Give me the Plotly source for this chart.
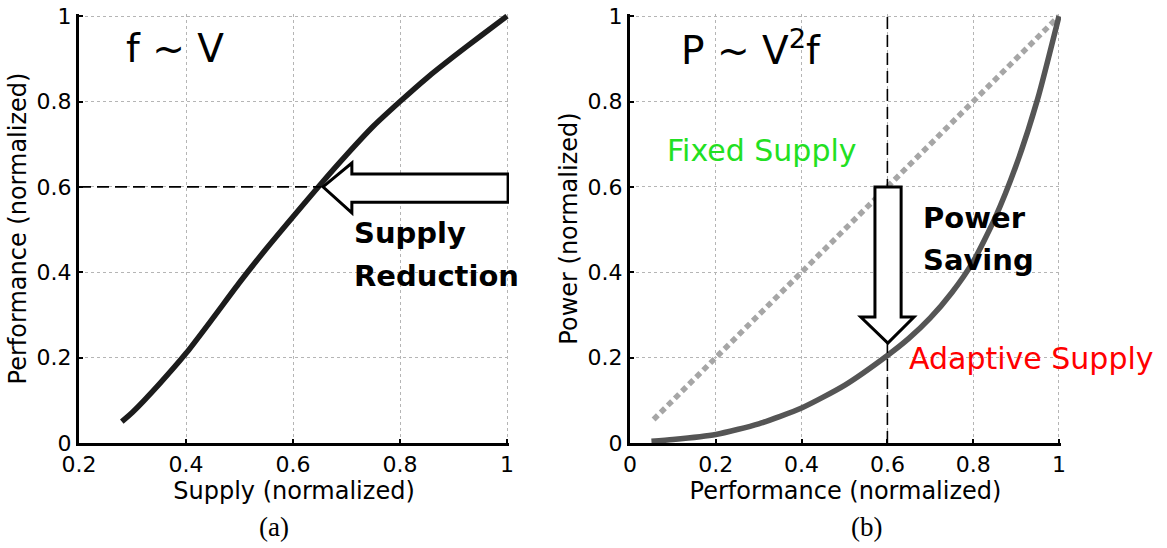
import plotly.graph_objects as go

# Panel (a): normalized performance (frequency) vs supply voltage
supply_v = [0.28, 0.30, 0.35, 0.40, 0.45, 0.50, 0.55, 0.60, 0.65, 0.70, 0.75, 0.80, 0.85, 0.90, 0.95, 1.00]
perf_f = [0.05, 0.072, 0.138, 0.21, 0.292, 0.376, 0.455, 0.53, 0.604, 0.675, 0.742, 0.80, 0.855, 0.905, 0.953, 1.00]

# Panel (b): normalized power vs performance
perf_b = [0.05, 0.10, 0.20, 0.30, 0.40, 0.50, 0.60, 0.65, 0.70, 0.75, 0.80, 0.85, 0.90, 0.95, 1.00]
power_adaptive = [0.004, 0.008, 0.02, 0.045, 0.082, 0.135, 0.205, 0.245, 0.293, 0.352, 0.425, 0.525, 0.65, 0.805, 1.00]
perf_fixed = [0.055, 1.00]
power_fixed = [0.055, 1.00]

tick_a_x = [0.2, 0.4, 0.6, 0.8, 1.0]
tick_a_x_text = ["0.2", "0.4", "0.6", "0.8", "1"]
tick_01 = [0, 0.2, 0.4, 0.6, 0.8, 1.0]
tick_01_text = ["0", "0.2", "0.4", "0.6", "0.8", "1"]

target_perf = 0.6

W, H = 1167, 548
SANS = "DejaVu Sans"

fig = go.Figure()

fig.add_trace(go.Scatter(
    x=supply_v, y=perf_f, mode="lines",
    line=dict(color="#1c1c1c", width=5.5, shape="spline", smoothing=0.6),
    xaxis="x", yaxis="y", showlegend=False, hoverinfo="skip"))

fig.add_trace(go.Scatter(
    x=perf_fixed, y=power_fixed, mode="lines",
    line=dict(color="#a6a6a6", width=5.5, dash="6px,4px"),
    xaxis="x2", yaxis="y2", showlegend=False, hoverinfo="skip"))

fig.add_trace(go.Scatter(
    x=perf_b, y=power_adaptive, mode="lines",
    line=dict(color="#555555", width=5.5, shape="spline", smoothing=0.6),
    xaxis="x2", yaxis="y2", showlegend=False, hoverinfo="skip"))


def px_dom(a, b, total):
    return [a / total, b / total]


# pixel placement of the two plot areas
ya_dom = [(H - 443) / H, (H - 14) / H]
axis_common = dict(
    showline=True, linewidth=3, linecolor="black", mirror=False,
    showgrid=True, gridcolor="#b5b5b5", griddash="dot", gridwidth=1,
    zeroline=False, ticks="inside", ticklen=4, tickwidth=2, tickcolor="black",
    tickfont=dict(family=SANS, size=22, color="black"),
    title_font=dict(family=SANS, size=24, color="black"),
    automargin=False, fixedrange=True,
)

fig.update_layout(
    width=W, height=H,
    margin=dict(l=0, r=0, t=0, b=0),
    paper_bgcolor="white", plot_bgcolor="white",
    xaxis=dict(domain=px_dom(79, 509, W), range=[0.2, 1.0037], anchor="y",
               tickvals=tick_a_x, ticktext=tick_a_x_text,
               title=dict(text="Supply (normalized)", standoff=4), **axis_common),
    yaxis=dict(domain=ya_dom, range=[0, 1.005], anchor="x",
               tickvals=tick_01, ticktext=tick_01_text,
               title=dict(text="Performance (normalized)", standoff=4), **axis_common),
    xaxis2=dict(domain=px_dom(630, 1061, W), range=[0, 1.0047], anchor="y2",
                tickvals=tick_01, ticktext=tick_01_text,
                title=dict(text="Performance (normalized)", standoff=4), **axis_common),
    yaxis2=dict(domain=ya_dom, range=[0, 1.005], anchor="x2",
                tickvals=tick_01, ticktext=tick_01_text,
                title=dict(text="Power (normalized)", standoff=4), **axis_common),
)

shapes = []
# dashed guide at the target performance in (a)
shapes.append(dict(type="line", xref="x", yref="y", x0=0.2, x1=0.652, y0=target_perf, y1=target_perf,
                   line=dict(color="black", width=1.6, dash="12px,6px")))
# dashed guide at the target performance in (b)
shapes.append(dict(type="line", xref="x2", yref="y2", x0=target_perf, x1=target_perf, y0=0, y1=1.005,
                   line=dict(color="black", width=1.6, dash="12px,6px")))
# hollow left arrow: supply reduction
shapes.append(dict(
    type="path", xref="x", yref="y",
    path="M 0.656 0.600 L 0.710 0.656 L 0.710 0.630 L 1.002 0.630 L 1.002 0.564 L 0.710 0.564 L 0.710 0.539 Z",
    fillcolor="white", line=dict(color="black", width=3)))
# hollow down arrow: power saving
shapes.append(dict(
    type="path", xref="x2", yref="y2",
    path="M 0.571 0.600 L 0.632 0.600 L 0.632 0.295 L 0.662 0.295 L 0.601 0.234 L 0.538 0.295 L 0.571 0.295 Z",
    fillcolor="white", line=dict(color="black", width=3)))
fig.update_layout(shapes=shapes)

ann = []
ann.append(dict(text="f ~ V", xref="x", yref="y", x=0.379, y=0.925, showarrow=False,
                xanchor="center", yanchor="middle", font=dict(family=SANS, size=39, color="black")))
ann.append(dict(text="P ~ V<sup>2</sup>f", xref="x2", yref="y2", x=0.282, y=0.925, showarrow=False,
                xanchor="center", yanchor="middle", font=dict(family=SANS, size=39, color="black")))
for txt, yy in (("Supply", 0.492), ("Reduction", 0.391)):
    ann.append(dict(text=txt, xref="x", yref="y", x=0.710, y=yy, showarrow=False,
                    xanchor="left", yanchor="middle",
                    font=dict(family=SANS, size=29, color="black", weight="bold")))
for txt, yy in (("Power", 0.527), ("Saving", 0.429)):
    ann.append(dict(text=txt, xref="x2", yref="y2", x=0.678, y=yy, showarrow=False,
                    xanchor="left", yanchor="middle",
                    font=dict(family=SANS, size=29, color="black", weight="bold")))
ann.append(dict(text="Fixed Supply", xref="x2", yref="y2", x=0.082, y=0.686, showarrow=False,
                xanchor="left", yanchor="middle", font=dict(family=SANS, size=30, color="#22e022")))
ann.append(dict(text="Adaptive Supply", xref="x2", yref="y2", x=0.646, y=0.199, showarrow=False,
                xanchor="left", yanchor="middle", font=dict(family=SANS, size=30, color="#ff0000")))
ann.append(dict(text="(a)", xref="paper", yref="paper", x=274 / W, y=1 - 527 / H, showarrow=False,
                xanchor="center", yanchor="middle",
                font=dict(family="Liberation Serif", size=27, color="black")))
ann.append(dict(text="(b)", xref="paper", yref="paper", x=866 / W, y=1 - 527 / H, showarrow=False,
                xanchor="center", yanchor="middle",
                font=dict(family="Liberation Serif", size=27, color="black")))
fig.update_layout(annotations=ann)

fig.write_html("out.html")
